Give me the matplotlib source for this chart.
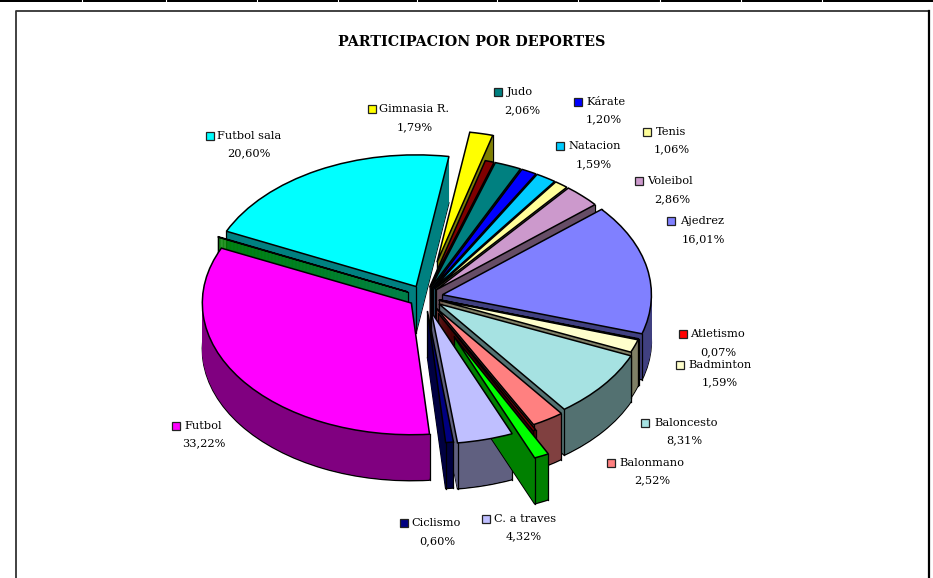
import matplotlib
matplotlib.use('Agg')
import matplotlib.pyplot as plt
from matplotlib.colors import to_rgb
from matplotlib.patches import Rectangle
import numpy as np

# slices clockwise from the bottom, the unnamed ones have no label in the original
names = ['Futbol', '', 'Futbol sala', 'Gimnasia R.', '', 'Judo', 'Kárate', 'Natacion', 'Tenis', 'Voleibol',
         'Ajedrez', 'Atletismo', 'Badminton', 'Baloncesto', 'Balonmano', '', '', 'C. a traves', 'Ciclismo']
values = [33.22, 0.05, 20.60, 1.79, 0.70, 2.06, 1.20, 1.59, 1.06, 2.86,
          16.01, 0.07, 1.59, 8.31, 2.52, 0.25, 1.15, 4.32, 0.60]
colors = ['#FF00FF', '#00A000', '#00FFFF', '#FFFF00', '#800000', '#008080', '#0000FF', '#00CCFF', '#FFFF99', '#CC99CC',
          '#8080FF', '#FF0000', '#FFFFCC', '#A6E2E2', '#FF8080', '#800000', '#00FF00', '#BFBFFF', '#000080']
explode = [0.08, 0.09, 0.09, 0.27, 0.075, 0.075, 0.075, 0.075, 0.075, 0.075,
           0.085, 0.07, 0.07, 0.085, 0.10, 0.14, 0.33, 0.12, 0.11]

# label layout in pixels: key x, key y, name x, percent x, percent y
label_pos = {
    'Futbol sala': (210, 136, 217, 249, 153),
    'Gimnasia R.': (372, 109, 379, 415, 127),
    'Judo': (498, 92, 507, 522, 110),
    'Kárate': (578, 102, 586, 604, 119),
    'Tenis': (647, 132, 656, 672, 149),
    'Natacion': (560, 146, 568, 594, 164),
    'Voleibol': (639, 181, 647, 672, 199),
    'Ajedrez': (671, 221, 680, 703, 239),
    'Atletismo': (683, 334, 690, 718, 352),
    'Badminton': (680, 365, 688, 720, 382),
    'Baloncesto': (645, 423, 654, 684, 440),
    'Balonmano': (611, 463, 619, 652, 480),
    'C. a traves': (486, 519, 494, 524, 536),
    'Ciclismo': (404, 523, 411, 437, 541),
    'Futbol': (176, 426, 184, 204, 443),
}

W, H = 933, 578
squash = 0.63
depth = 46
cx, cy = 425, 297
R = 209
font = 'DejaVu Serif'

fig = plt.figure(figsize=(W / 100, H / 100), dpi=100, facecolor='white')
ax = fig.add_axes([0, 0, 1, 1])

walls = [tuple(c * 0.5 for c in to_rgb(col)) for col in colors]
walls[1] = '#008000'
walls[16] = '#008000'


def draw_pie(level, cols):
    # explode is absolute once radius is not 1
    wedges, _ = ax.pie(values, explode=[e * R for e in explode], colors=cols, startangle=275, counterclock=False,
                       radius=R, center=(cx, (H - cy - level) / squash), frame=False)
    return wedges


# back slices first so the exploded ones sit in front of their neighbours
mids = []
probe = draw_pie(0, colors)
for w in probe:
    mid = np.radians((w.theta1 + w.theta2) / 2)
    mids.append(w.center[1] + 0.5 * R * np.sin(mid))
    w.remove()
rank = np.argsort(np.argsort(-np.array(mids)))

for level in range(depth, 0, -1):
    wedges = draw_pie(level, walls)
    for i, w in enumerate(wedges):
        w.set_zorder(rank[i] + (depth - level) * 0.001)
        if level == depth:
            w.set_edgecolor('black')
            w.set_linewidth(1.0)
        else:
            w.set_edgecolor(walls[i])
            w.set_linewidth(0.3)

top = draw_pie(0, colors)
for i, w in enumerate(top):
    w.set_zorder(100 + rank[i])
    w.set_edgecolor('black')
    w.set_linewidth(1.1)
    # vertical edges of the walls
    x0, y0 = w.center
    drop = depth / squash
    ax.plot([x0, x0], [y0, y0 - drop], color='black', lw=0.9, zorder=rank[i] + 0.5)
    for th in (w.theta1, w.theta2):
        s = np.sin(np.radians(th))
        if s > 0.75 and explode[i] < 0.15:
            continue
        xe = x0 + R * np.cos(np.radians(th))
        ye = y0 + R * s
        ax.plot([xe, xe], [ye, ye - drop], color='black', lw=0.9, zorder=rank[i] + 0.5)

ax.set_aspect('auto')
ax.set_xlim(0, W)
ax.set_ylim(0, H / squash)
ax.axis('off')

# overlay in pixel coordinates for frame, title and labels
ov = fig.add_axes([0, 0, 1, 1], zorder=5)
ov.patch.set_alpha(0)
ov.set_xlim(0, W)
ov.set_ylim(H, 0)
ov.axis('off')

ov.add_patch(Rectangle((0, 0), W, 2.2, fc='black', ec='none'))
for tx in [82, 166, 257, 338, 417, 497, 578, 660, 741, 822]:
    ov.plot([tx, tx], [0, 2], color='white', lw=0.8)
ov.plot([16, 16, 928], [H, 11, 11], color='#333333', lw=1.3)
ov.plot([929, 929], [11, H], color='black', lw=1.6)

ov.text(472, 42, 'PARTICIPACION POR DEPORTES', family=font, fontsize=10.25, fontweight='bold',
        ha='center', va='center', color='black')

for name, val, col in zip(names, values, colors):
    if not name:
        continue
    kx, ky, nx, px, py = label_pos[name]
    ov.add_patch(Rectangle((kx - 4, ky - 4), 8, 8, fc=col, ec='#222222', lw=0.9))
    ov.text(nx, ky, name, family=font, fontsize=8.2, ha='left', va='center', color='black')
    ov.text(px, py, f'{val:.2f}%'.replace('.', ','), family=font, fontsize=8.2, ha='center', va='center', color='black')

fig.savefig('out.png', dpi=100)
